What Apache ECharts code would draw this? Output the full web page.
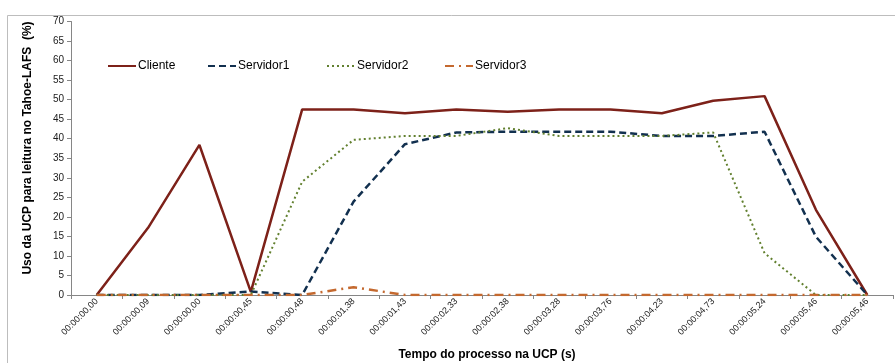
<!DOCTYPE html>
<html>
<head>
<meta charset="utf-8">
<script src="https://cdn.jsdelivr.net/npm/echarts@6/dist/echarts.min.js"></script>
<style>
  html, body { margin: 0; padding: 0; background: #fff; }
  #chart { width: 895px; height: 363px; }
</style>
</head>
<body>
<div id="chart"></div>
<script>
// Time stamps along the horizontal axis
const tempos = [
  '00:00:00,00', '00:00:00,09', '00:00:00,00', '00:00:00,45',
  '00:00:00,48', '00:00:01,38', '00:00:01,43', '00:00:02,33',
  '00:00:02,38', '00:00:03,28', '00:00:03,76', '00:00:04,23',
  '00:00:04,73', '00:00:05,24', '00:00:05,46', '00:00:05,46'
];

// CPU usage (%) per process
const cliente    = [0, 17.2, 38.4, 0.8, 47.5, 47.5, 46.5, 47.5, 46.9, 47.5, 47.5, 46.5, 49.7, 50.9, 21.8, 0];
const servidor1  = [0, 0, 0, 0.9, 0, 23.9, 38.6, 41.6, 41.8, 41.8, 41.8, 40.7, 40.7, 41.8, 14.9, 0];
const servidor2  = [0, 0, 0, 0, 29.0, 39.7, 40.7, 40.7, 42.7, 40.7, 40.7, 40.7, 41.6, 10.7, 0, 0];
const servidor3  = [0, 0, 0, 0, 0, 2.0, 0, 0, 0, 0, 0, 0, 0, 0, 0, 0];

const yTicks = { min: 0, max: 70, step: 5 };

const cores = {
  cliente: '#7d2119',
  servidor1: '#12304f',
  servidor2: '#62802f',
  servidor3: '#c4692f'
};

const fonte = '"Liberation Sans", Arial, sans-serif';

function serie(nome, dados, cor, tipo, largura) {
  return {
    name: nome,
    type: 'line',
    data: dados,
    symbol: 'none',
    smooth: false,
    lineStyle: { color: cor, width: largura, type: tipo, cap: 'butt' },
    itemStyle: { color: cor },
    emphasis: { disabled: true }
  };
}

function legenda(nome, x) {
  return {
    data: [nome],
    left: x,
    top: 60,
    itemWidth: 28,
    itemHeight: 14,
    itemGap: 0,
    padding: 0,
    selectedMode: false,
    itemStyle: { opacity: 0 },
    textStyle: { fontFamily: fonte, fontSize: 12, color: '#000', padding: [0, 0, 0, -3] }
  };
}

const chart = echarts.init(document.getElementById('chart'), null, { renderer: 'canvas' });

chart.setOption({
  animation: false,
  backgroundColor: '#fff',
  grid: { left: 71, right: 2, top: 21.5, bottom: 68, containLabel: false },
  legend: [
    legenda('Cliente', 107),
    legenda('Servidor1', 207),
    legenda('Servidor2', 326),
    legenda('Servidor3', 444)
  ],
  graphic: [
    {
      type: 'rect',
      shape: { x: 7.5, y: 15.5, width: 900, height: 400 },
      style: { fill: 'none', stroke: '#bdbdbd', lineWidth: 1 },
      silent: true
    },
    {
      type: 'text',
      x: 28,
      y: 148,
      rotation: Math.PI / 2,
      style: {
        text: 'Uso da UCP para leitura no Tahoe-LAFS  (%)',
        font: 'bold 12px ' + fonte,
        fill: '#000',
        align: 'center',
        verticalAlign: 'middle'
      },
      silent: true
    },
    {
      type: 'text',
      x: 487,
      y: 355,
      style: {
        text: 'Tempo do processo na UCP (s)',
        font: 'bold 12px ' + fonte,
        fill: '#000',
        align: 'center',
        verticalAlign: 'middle'
      },
      silent: true
    }
  ],
  xAxis: {
    type: 'category',
    data: tempos,
    boundaryGap: true,
    axisLine: { lineStyle: { color: '#868686', width: 1 } },
    axisTick: { show: true, alignWithLabel: false, length: 4, lineStyle: { color: '#868686' } },
    axisLabel: {
      interval: 0,
      rotate: 45,
      fontFamily: fonte,
      fontSize: 9,
      color: '#1a1a1a',
      margin: 5
    },
    splitLine: { show: false }
  },
  yAxis: {
    type: 'value',
    min: yTicks.min,
    max: yTicks.max,
    interval: yTicks.step,
    axisLine: { show: true, lineStyle: { color: '#868686', width: 1 } },
    axisTick: { show: true, length: 4, lineStyle: { color: '#868686' } },
    axisLabel: { fontFamily: fonte, fontSize: 10, color: '#1a1a1a', margin: 7 },
    splitLine: { show: false }
  },
  series: [
    serie('Cliente', cliente, cores.cliente, 'solid', 2.5),
    serie('Servidor1', servidor1, cores.servidor1, [7, 4], 2.5),
    serie('Servidor2', servidor2, cores.servidor2, [2, 3], 2),
    serie('Servidor3', servidor3, cores.servidor3, [9, 5, 2, 5], 2.5)
  ]
});
</script>
</body>
</html>
